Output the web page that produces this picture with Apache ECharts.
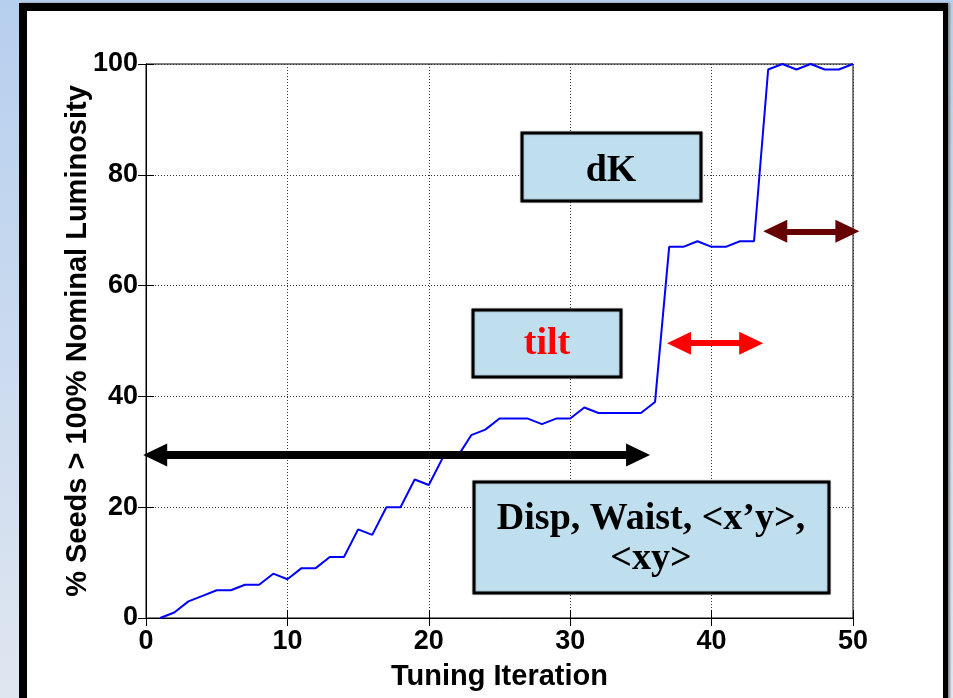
<!DOCTYPE html>
<html>
<head>
<meta charset="utf-8">
<title></title>
<script src="https://cdn.jsdelivr.net/npm/echarts@6/dist/echarts.min.js"></script>
<style>
	body { margin: 0; width: 953px; height: 698px; overflow: hidden; position: relative;
		background: linear-gradient(#b6cfee, #dfe6f0); }
	#frame { position: absolute; left: 19px; top: 3px; width: 916px; height: 720px; background: #fff;
		border-left: 8px solid #000; border-top: 8px solid #000; border-right: 5px solid #000;
		box-shadow: 2px 0 2px #8a8a8a; }
	#main { position: absolute; left: 0; top: 0; width: 953px; height: 698px; }
</style>
</head>
<body>
<div id="frame"></div>
<div id="main"></div>
<script>
	// tuning iteration vs % of seeds above nominal luminosity
	var iterations = [1,2,3,4,5,6,7,8,9,10,11,12,13,14,15,16,17,18,19,20,
		21,22,23,24,25,26,27,28,29,30,31,32,33,34,35,36,37,38,39,40,
		41,42,43,44,45,46,47,48,49,50]
	var seeds = [0,1,3,4,5,5,6,6,8,7, 9,9,11,11,16,15,20,20,25,24,
		29,29,33,34,36,36,36,35,36,36, 38,37,37,37,37,39,67,67,68,67,
		67,68,68,99,100,99,100,99,99,100]
	var xTicks = [0, 10, 20, 30, 40, 50]
	var yTicks = [0, 20, 40, 60, 80, 100]

	// double arrows (centres of the heads, in data units)
	var arrowLevel = [29.4, 49.6, 69.8]
	var arrowStart = [0.65, 37.7, 44.5]
	var arrowEnd = [34.8, 42.8, 49.6]
	var arrowColor = ["#000000", "#ff0000", "#660000"]
	var arrowWidth = [8, 6, 6]

	var boxFont = '"Liberation Serif", "Times New Roman", serif'
	var axisFont = '"Liberation Sans", Arial, sans-serif'

	var points = iterations.map(function (x, i) { return [x, seeds[i]] })

	var arrowData = arrowLevel.map(function (y, i) {
		return [
			{ coord: [arrowStart[i], y], lineStyle: { color: arrowColor[i], width: arrowWidth[i], type: "solid" },
			  itemStyle: { color: arrowColor[i] } },
			{ coord: [arrowEnd[i], y], itemStyle: { color: arrowColor[i] } }
		]
	})

	function box(x, y, w, h) {
		return { type: "rect", shape: { x: x, y: y, width: w, height: h }, z: 10,
			style: { fill: "#c0dfee", stroke: "#000", lineWidth: 3, shadowColor: "rgba(0,0,0,0.35)", shadowBlur: 2 } }
	}
	function label(text, x, y, color) {
		return { type: "text", x: x, y: y, z: 11,
			style: { text: text, fill: color, fontFamily: boxFont, fontWeight: "bold", fontSize: 38,
				align: "center", verticalAlign: "middle" } }
	}

	var mCharts = echarts.init(document.getElementById("main"))

	var opt = {
		animation: false,
		grid: { left: 146, right: 100, top: 64, bottom: 80, show: true, borderColor: "#000", borderWidth: 1 },
		xAxis: [
			{
				type: "value", min: 0, max: 50, interval: 10,
				name: "Tuning Iteration", nameLocation: "middle", nameGap: 44,
				nameTextStyle: { fontFamily: axisFont, fontWeight: "bold", fontSize: 29, color: "#000" },
				axisLine: { lineStyle: { color: "#000", width: 1 } },
				axisTick: { inside: true, length: 8, lineStyle: { color: "#000" } },
				axisLabel: { margin: 10, fontFamily: axisFont, fontWeight: "bold", fontSize: 27, color: "#000",
					formatter: function (v) { return xTicks.indexOf(v) >= 0 ? String(v) : "" } },
				splitLine: { show: true, lineStyle: { color: "#333", type: [1, 2], width: 1 } }
			},
			{
				type: "value", min: 0, max: 50, interval: 10, position: "top",
				axisLine: { lineStyle: { color: "#000" } },
				axisTick: { inside: true, length: 8, lineStyle: { color: "#000" } },
				axisLabel: { show: false }, splitLine: { show: false }
			}
		],
		yAxis: [
			{
				type: "value", min: 0, max: 100, interval: 20,
				name: "% Seeds > 100% Nominal Luminosity", nameLocation: "middle", nameGap: 54,
				nameMoveOverlap: false,
				nameTextStyle: { fontFamily: axisFont, fontWeight: "bold", fontSize: 29, color: "#000" },
				axisLine: { show: true, lineStyle: { color: "#000", width: 1 } },
				axisTick: { show: true, inside: true, length: 8, lineStyle: { color: "#000" } },
				axisLabel: { margin: 8, fontFamily: axisFont, fontWeight: "bold", fontSize: 27, color: "#000",
					formatter: function (v) { return yTicks.indexOf(v) >= 0 ? String(v) : "" } },
				splitLine: { show: true, lineStyle: { color: "#333", type: [1, 2], width: 1 } }
			},
			{
				type: "value", min: 0, max: 100, interval: 20, position: "right",
				axisLine: { show: true, lineStyle: { color: "#000" } },
				axisTick: { show: true, inside: true, length: 8, lineStyle: { color: "#000" } },
				axisLabel: { show: false }, splitLine: { show: false }
			}
		],
		series: [
			{
				type: "line",
				data: points,
				showSymbol: false,
				symbol: "none",
				lineStyle: { color: "#0000ff", width: 2 },
				silent: true,
				z: 3
			},
			{
				type: "line",
				data: [],
				clip: false,
				z: 5,
				markLine: {
					silent: true,
					symbol: ["triangle", "triangle"],
					symbolSize: [23, 24],
					label: { show: false },
					emphasis: { disabled: true },
					data: arrowData
				}
			}
		],
		graphic: [
			box(522, 133, 179, 68),
			label("dK", 611, 171, "#000"),
			box(473, 310, 148, 67),
			label("tilt", 547, 344, "#ff0000"),
			box(474, 482, 355, 111),
			label("Disp, Waist, <x\u2019y>,", 651, 519, "#000"),
			label("<xy>", 651, 559, "#000")
		]
	}

	mCharts.setOption(opt)
</script>
</body>
</html>
